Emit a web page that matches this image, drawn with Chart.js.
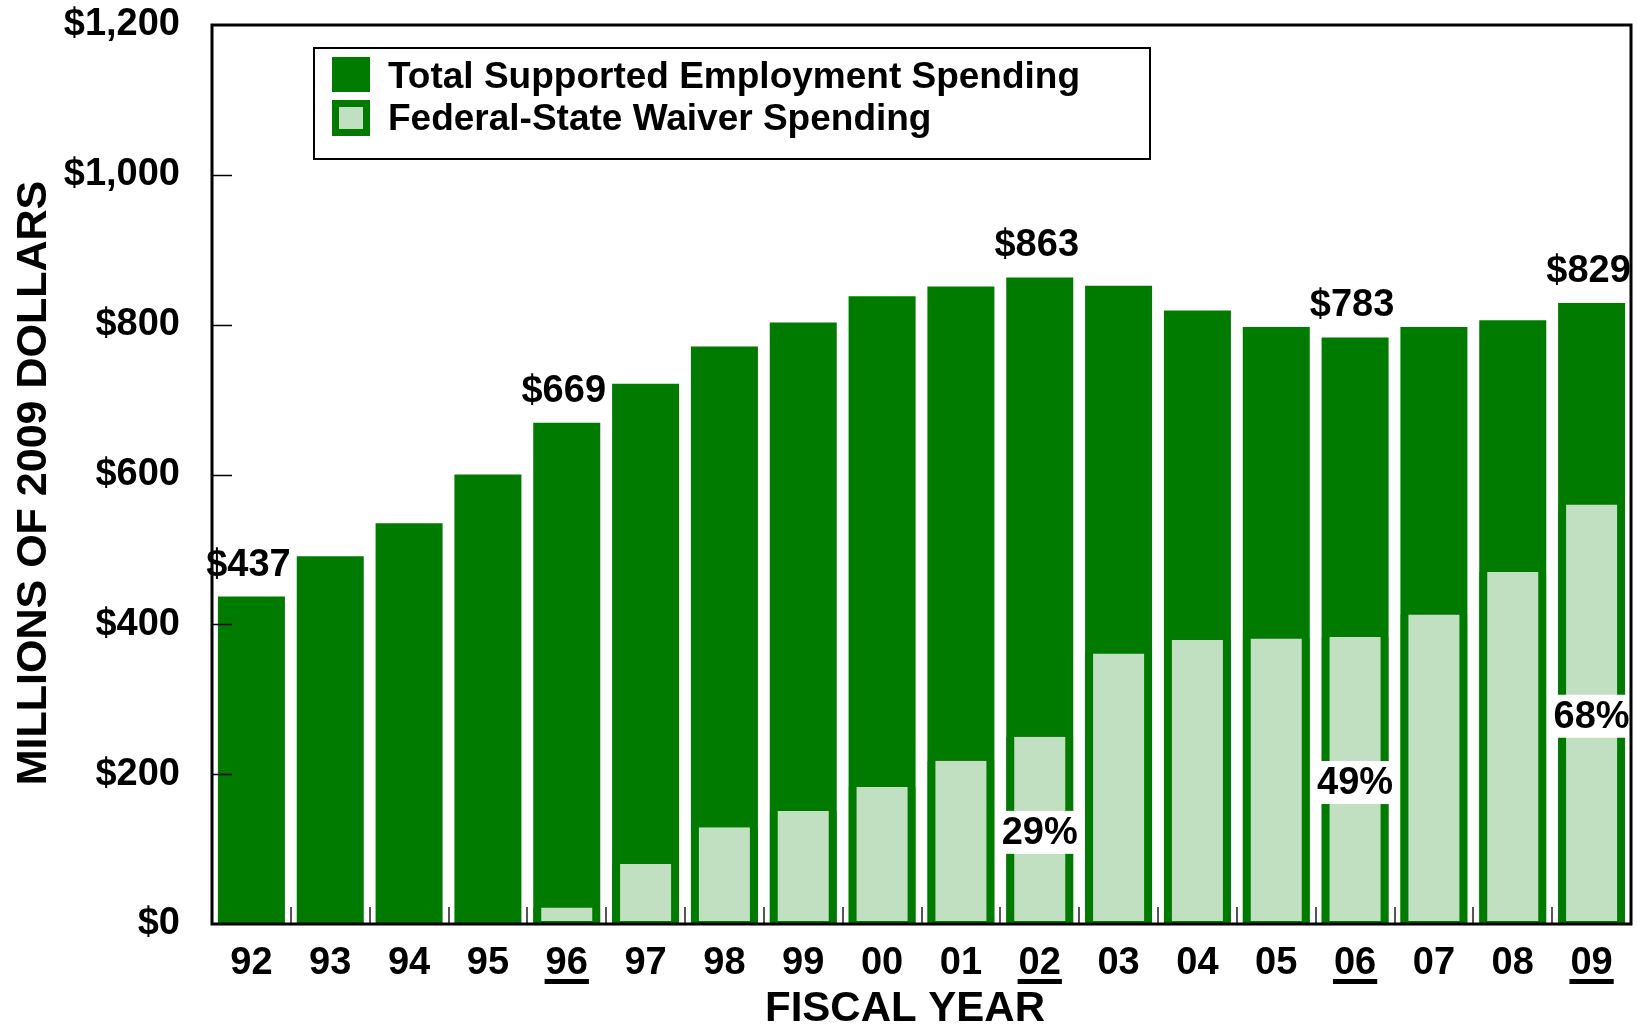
<!DOCTYPE html>
<html>
<head>
<meta charset="utf-8">
<title>Supported Employment Spending</title>
<script src="https://cdn.jsdelivr.net/npm/chart.js@4.4.1/dist/chart.umd.min.js"></script>
<style>
  html, body { margin: 0; padding: 0; background: #fff; }
  #wrap { width: 1637px; height: 1026px; }
</style>
</head>
<body>
<div id="wrap"><canvas id="spendingChart" width="1637" height="1026"></canvas></div>
<script>
// Fiscal years and spending, millions of 2009 dollars
const years = ['92', '93', '94', '95', '96', '97', '98', '99', '00', '01', '02', '03', '04', '05', '06', '07', '08', '09'];
const totalSpending = [437, 491, 535, 600, 669, 721, 771, 803, 838, 851, 863, 852, 819, 797, 783, 797, 806, 829];
const waiverSpending = [null, null, null, null, 22, 80, 129, 151, 183, 218, 250, 361, 379, 381, 383, 413, 470, 560];
const yTicks = [0, 200, 400, 600, 800, 1000, 1200];

// years that get a dollar label, a waiver share box, an underlined tick
const totalLabelYears = ['92', '96', '02', '06', '09'];
const shareLabelYears = ['02', '06', '09'];
const underlinedYears = ['96', '02', '06', '09'];

const seriesNames = ['Total Supported Employment Spending', 'Federal-State Waiver Spending'];
const xTitle = 'FISCAL YEAR';
const yTitle = 'MILLIONS OF 2009 DOLLARS';

const DARK = '#007b00';
const LIGHT = '#c1dfc1';
const FONT = '"Liberation Sans", Arial, Helvetica, sans-serif';

function line(ctx, x1, y1, x2, y2) {
  ctx.beginPath();
  ctx.moveTo(x1, y1);
  ctx.lineTo(x2, y2);
  ctx.stroke();
}

const chartDecor = {
  id: 'chartDecor',
  afterDatasetsDraw(chart) {
    const { ctx, chartArea: a, scales: { x, y } } = chart;
    const totalBars = chart.getDatasetMeta(0).data;
    const waiverBars = chart.getDatasetMeta(1).data;
    ctx.save();

    // short inward ticks on the dollar axis
    ctx.strokeStyle = '#000';
    ctx.lineWidth = 1.5;
    yTicks.forEach(v => {
      if (v === yTicks[0] || v === yTicks[yTicks.length - 1]) return;
      const py = Math.round(y.getPixelForValue(v)) + 0.5;
      line(ctx, a.left, py, a.left + 20, py);
    });

    // separators between fiscal years
    ctx.strokeStyle = '#555';
    ctx.lineWidth = 2;
    for (let i = 1; i < years.length; i++) {
      const px = Math.round((x.getPixelForValue(i - 1) + x.getPixelForValue(i)) / 2);
      line(ctx, px, a.bottom, px, a.bottom - 17);
    }

    // plot frame
    ctx.strokeStyle = '#000';
    ctx.lineWidth = 3;
    ctx.strokeRect(a.left, a.top, a.right - a.left, a.bottom - a.top);

    // dollar totals above selected bars
    ctx.fillStyle = '#000';
    ctx.font = 'bold 38px ' + FONT;
    ctx.textAlign = 'center';
    ctx.textBaseline = 'alphabetic';
    totalLabelYears.forEach(yr => {
      const i = years.indexOf(yr);
      const bar = totalBars[i];
      ctx.fillText('$' + totalSpending[i], bar.x - 3, bar.y - 21);
    });

    // waiver share of total, boxed in the middle of the waiver bar
    ctx.textBaseline = 'middle';
    shareLabelYears.forEach(yr => {
      const i = years.indexOf(yr);
      const bar = totalBars[i];
      const wb = waiverBars[i];
      const cy = (wb.y + wb.base) / 2 + 2;
      const w = bar.width + 4;
      ctx.fillStyle = '#fff';
      ctx.fillRect(bar.x - w / 2, cy - 21.5, w, 43);
      ctx.fillStyle = '#000';
      const pct = Math.round(waiverSpending[i] / totalSpending[i] * 100);
      ctx.fillText(pct + '%', bar.x, cy + 1);
    });

    // underline marker years
    underlinedYears.forEach(yr => {
      const i = years.indexOf(yr);
      const px = x.getPixelForValue(i);
      const tw = ctx.measureText(yr).width + 2;
      ctx.fillRect(px - tw / 2, a.bottom + 55, tw, 5);
    });

    // axis titles
    ctx.font = 'bold 42px ' + FONT;
    ctx.fillText(xTitle, 905, 1009);
    ctx.save();
    ctx.translate(34, 483);
    ctx.rotate(-Math.PI / 2);
    ctx.font = 'bold 43px ' + FONT;
    ctx.fillText(yTitle, 0, 0);
    ctx.restore();

    // legend
    ctx.strokeStyle = '#000';
    ctx.lineWidth = 2;
    ctx.fillStyle = '#fff';
    ctx.fillRect(314, 48, 836, 111);
    ctx.strokeRect(314, 48, 836, 111);
    ctx.fillStyle = DARK;
    ctx.fillRect(332, 57, 38, 35);
    ctx.fillRect(332, 100, 38, 36);
    ctx.fillStyle = LIGHT;
    ctx.fillRect(339, 107, 24, 22);
    ctx.fillStyle = '#000';
    ctx.font = 'bold 37px ' + FONT;
    ctx.textAlign = 'left';
    ctx.textBaseline = 'middle';
    ctx.fillText(seriesNames[0], 388, 78);
    ctx.fillText(seriesNames[1], 388, 120);

    ctx.restore();
  }
};

const ctx = document.getElementById('spendingChart').getContext('2d');

const spendingChart = new Chart(ctx, {
  type: 'bar',
  data: {
    labels: years,
    datasets: [
      {
        label: seriesNames[0],
        data: totalSpending,
        backgroundColor: DARK,
        borderWidth: 0,
        order: 1
      },
      {
        label: seriesNames[1],
        data: waiverSpending,
        backgroundColor: LIGHT,
        borderColor: DARK,
        borderWidth: { left: 8, right: 8, bottom: 3, top: 0 },
        borderSkipped: false,
        order: 0
      }
    ]
  },
  options: {
    responsive: false,
    animation: false,
    events: [],
    layout: { padding: { top: 25, right: 6, bottom: 0, left: 0 } },
    datasets: {
      bar: { grouped: false, categoryPercentage: 1, barPercentage: 0.85 }
    },
    plugins: {
      legend: { display: false },
      tooltip: { enabled: false }
    },
    scales: {
      x: {
        grid: { display: false, drawTicks: false },
        border: { display: false },
        ticks: {
          color: '#000',
          padding: 17,
          font: { family: FONT, size: 38, weight: 'bold' }
        },
        afterFit: scale => {
          scale.height = 102;
          scale.paddingLeft = 0;
          scale.paddingRight = 0;
        }
      },
      y: {
        min: 0,
        max: 1200,
        grid: { display: false, drawTicks: false },
        border: { display: false },
        ticks: {
          stepSize: 200,
          color: '#000',
          padding: 32,
          font: { family: FONT, size: 38, weight: 'bold' },
          callback: v => '$' + v.toLocaleString('en-US')
        },
        afterFit: scale => {
          scale.width = 212;
          scale.paddingTop = 0;
          scale.paddingBottom = 0;
        }
      }
    }
  },
  plugins: [chartDecor]
});
</script>
</body>
</html>
